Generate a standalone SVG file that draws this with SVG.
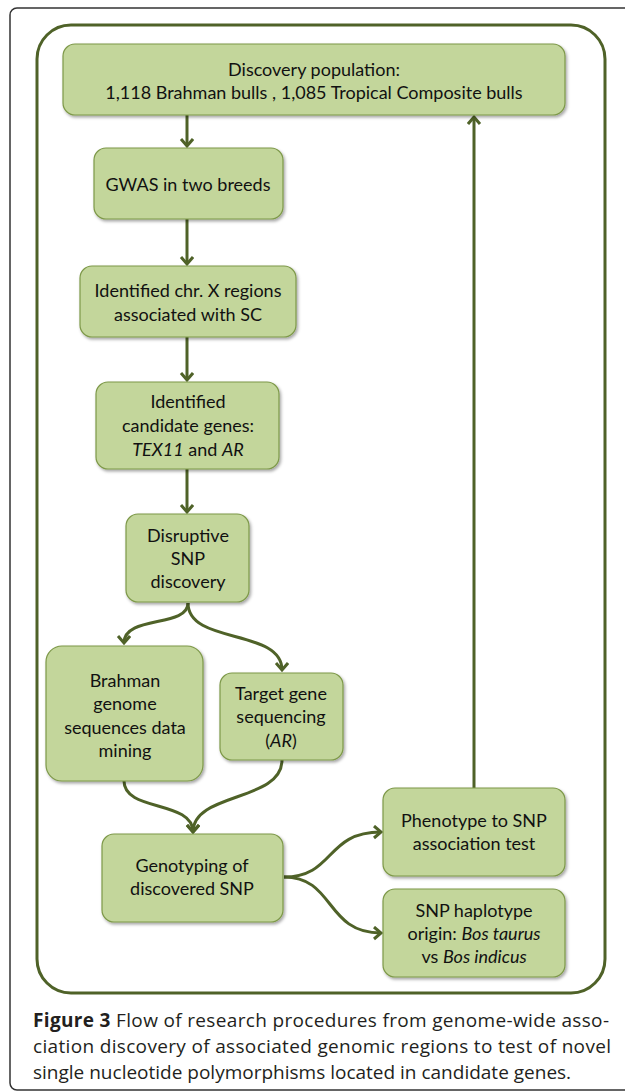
<svg xmlns="http://www.w3.org/2000/svg" width="625" height="1092" viewBox="0 0 625 1092">
<defs>
<style>
.box{fill:#c3d69b;stroke:#7d9848;stroke-width:1.2;filter:url(#sh)}
.t{font-family:Lato,"Liberation Sans",sans-serif;font-size:18px;fill:#111;text-anchor:middle}
.c{fill:none;stroke:#4f6228;stroke-width:3;marker-end:url(#ah)}
.cap{font-family:"Open Sans","Liberation Sans",sans-serif;font-size:19px;fill:#231f20}
</style>
<filter id="sh" x="-10%" y="-10%" width="125%" height="130%">
<feDropShadow dx="1.5" dy="2" stdDeviation="1.5" flood-color="#000" flood-opacity="0.35"/>
</filter>
<marker id="ah" markerUnits="userSpaceOnUse" markerWidth="16" markerHeight="16" refX="9" refY="7" orient="auto">
<path d="M2,1 L9,7 L2,13" fill="none" stroke="#4f6228" stroke-width="3"/>
</marker>
</defs>
<rect x="10" y="8" width="640" height="1082" rx="7" fill="#fff" stroke="#333" stroke-width="1.5"/>
<rect x="37" y="25" width="568" height="968" rx="34" fill="none" stroke="#4f6228" stroke-width="3"/>
<g id="connectors">
<path class="c" d="M187,115 L187,146"/>
<path class="c" d="M187,219 L187,264"/>
<path class="c" d="M187,337 L187,380"/>
<path class="c" d="M187,469 L187,512"/>
<path class="c" d="M188,603 C188,628 124,615 124,643"/>
<path class="c" d="M188,603 C188,645 282,628 282,670"/>
<path class="c" d="M124,781 C124,812 193,800 193,832"/>
<path class="c" d="M282,760 C282,802 193,792 193,832"/>
<path class="c" d="M284,877 C335,877 325,832 381,832"/>
<path class="c" d="M284,877 C335,877 325,933 381,933"/>
<path class="c" d="M474,788 L474,117"/>
</g>
<g id="n1"><rect class="box" x="63" y="44" width="502" height="71" rx="12"/>
<text class="t" x="314" y="76">Discovery population:</text>
<text class="t" x="314" y="99">1,118 Brahman bulls , 1,085 Tropical Composite bulls</text></g>
<g id="n2"><rect class="box" x="94" y="148" width="189" height="71" rx="12"/>
<text class="t" x="188" y="191">GWAS in two breeds</text></g>
<g id="n3"><rect class="box" x="80" y="266" width="216" height="71" rx="12"/>
<text class="t" x="188" y="297">Identified chr. X regions</text>
<text class="t" x="188" y="321">associated with SC</text></g>
<g id="n4"><rect class="box" x="96" y="382" width="183" height="87" rx="12"/>
<text class="t" x="188" y="408">Identified</text>
<text class="t" x="188" y="432">candidate genes:</text>
<text class="t" x="188" y="456"><tspan font-style="italic">TEX11</tspan> and <tspan font-style="italic">AR</tspan></text></g>
<g id="n5"><rect class="box" x="126" y="514" width="123" height="88" rx="12"/>
<text class="t" x="188" y="542">Disruptive</text>
<text class="t" x="188" y="565">SNP</text>
<text class="t" x="188" y="588">discovery</text></g>
<g id="n6"><rect class="box" x="46" y="646" width="157" height="135" rx="16"/>
<text class="t" x="125" y="687">Brahman</text>
<text class="t" x="125" y="710">genome</text>
<text class="t" x="125" y="734">sequences  data</text>
<text class="t" x="125" y="757">mining</text></g>
<g id="n7"><rect class="box" x="220" y="673" width="123" height="87" rx="12"/>
<text class="t" x="281" y="700">Target gene</text>
<text class="t" x="281" y="723">sequencing</text>
<text class="t" x="281" y="747">(<tspan font-style="italic">AR</tspan>)</text></g>
<g id="n8"><rect class="box" x="102" y="834" width="181" height="88" rx="12"/>
<text class="t" x="192" y="872">Genotyping of</text>
<text class="t" x="192" y="895">discovered SNP</text></g>
<g id="n9"><rect class="box" x="383" y="788" width="182" height="88" rx="12"/>
<text class="t" x="474" y="827">Phenotype to SNP</text>
<text class="t" x="474" y="850">association test</text></g>
<g id="n10"><rect class="box" x="383" y="889" width="182" height="88" rx="12"/>
<text class="t" x="474" y="917">SNP haplotype</text>
<text class="t" x="474" y="940">origin: <tspan font-style="italic">Bos taurus</tspan></text>
<text class="t" x="474" y="963">vs <tspan font-style="italic">Bos indicus</tspan></text></g>
<g id="caption">
<text class="cap" x="33" y="1027" textLength="576" lengthAdjust="spacing"><tspan font-weight="bold">Figure 3</tspan> Flow of research procedures from genome-wide asso-</text>
<text class="cap" x="33" y="1053" textLength="578" lengthAdjust="spacing">ciation discovery of associated genomic regions to test of novel</text>
<text class="cap" x="33" y="1079">single nucleotide polymorphisms located in candidate genes.</text>
</g>
</svg>
